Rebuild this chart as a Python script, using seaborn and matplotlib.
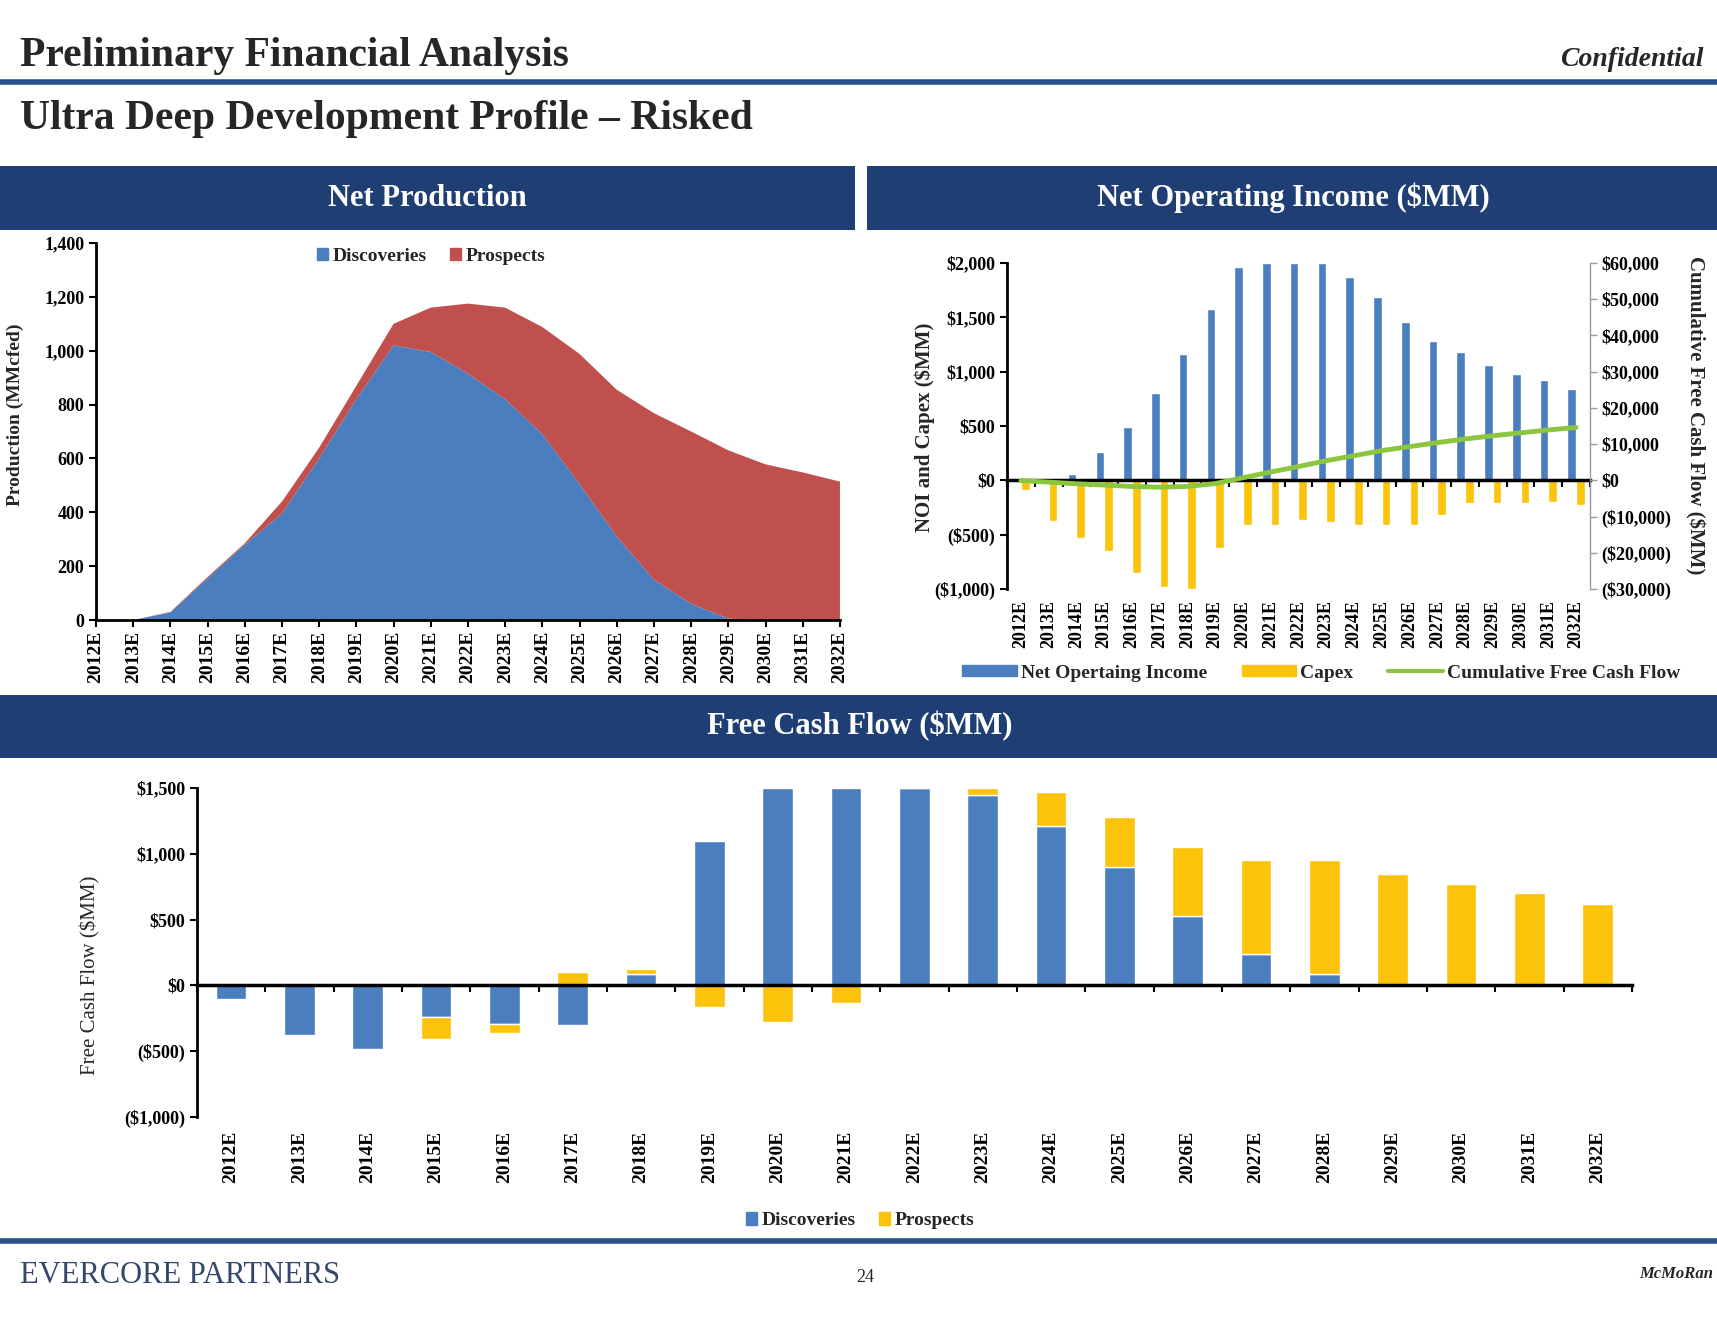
import matplotlib.pyplot as plt
import seaborn as sns
import pandas as pd
import numpy as np
from matplotlib.patches import Rectangle, Patch
from matplotlib.lines import Line2D
from matplotlib.ticker import FuncFormatter

sns.set_theme(style='white')
plt.rcParams['font.family'] = ['Liberation Serif', 'DejaVu Serif']
plt.rcParams['font.weight'] = 'bold'

navy = '#1f3e74'
blue = '#4a7ebf'
red = '#c0504d'
gold = '#fcc30b'
green = '#8cc63e'

years = ['2012E', '2013E', '2014E', '2015E', '2016E', '2017E', '2018E',
         '2019E', '2020E', '2021E', '2022E', '2023E', '2024E', '2025E',
         '2026E', '2027E', '2028E', '2029E', '2030E', '2031E', '2032E']

# net production (MMcfed)
prod_disc = [0, 0, 28, 155, 280, 395, 600, 820, 1020, 995, 915, 820, 690,
             505, 310, 150, 60, 5, 0, 0, 0]
prod_pros = [0, 0, 2, 5, 5, 45, 40, 50, 80, 165, 260, 340, 398, 483, 545,
             618, 640, 625, 578, 548, 514]

# net operating income, capex, cumulative FCF ($MM)
noi = [0, 0, 60, 260, 490, 800, 1160, 1575, 1960, 2000, 2000, 2000, 1875,
       1685, 1460, 1285, 1180, 1060, 980, 920, 840]
capex = [-90, -370, -530, -650, -850, -985, -1000, -625, -410, -415, -365,
         -380, -410, -415, -415, -320, -210, -205, -205, -200, -230]
cum_fcf = [-100, -500, -950, -1300, -1700, -1900, -1700, -900, 700, 2300,
           3800, 5400, 6800, 8200, 9300, 10400, 11400, 12300, 13100, 13900,
           14600]

# free cash flow ($MM)
fcf_disc = [-100, -380, -480, -240, -290, -300, 90, 1100, 1500, 1500, 1500,
            1450, 1210, 900, 530, 240, 85, 0, 0, 0, 0]
fcf_pros = [0, 0, 0, -165, -70, 105, 35, -165, -275, -130, 0, 50, 260, 380,
            520, 715, 870, 850, 770, 700, 620]


def money(v, pos=None):
    if v < 0:
        return f'(${-v:,.0f})'
    return f'${v:,.0f}'


fig = plt.figure(figsize=(17.17, 13.2), dpi=100)
x = np.arange(len(years))

# ---- slide header / footer ----
fig.text(0.0116, 0.95, 'Preliminary Financial Analysis', fontsize=30,
         va='baseline', ha='left')
fig.text(0.9924, 0.95, 'Confidential', fontsize=20, style='italic',
         va='baseline', ha='right')
fig.add_artist(Line2D([0, 1], [0.9379, 0.9379], transform=fig.transFigure,
                      color='#2c4f8f', lw=4))
fig.text(0.0116, 0.9023, 'Ultra Deep Development Profile \u2013 Risked',
         fontsize=30, va='baseline', ha='left')

for (bx, by, bw, bh) in [(0, 0.8258, 0.498, 0.0485), (0.505, 0.8258, 0.495, 0.0485),
                         (0, 0.4258, 1, 0.0477)]:
    fig.add_artist(Rectangle((bx, by), bw, bh, transform=fig.transFigure,
                             facecolor=navy, edgecolor='none'))
fig.text(0.249, 0.85, 'Net Production', color='white', fontsize=22,
         ha='center', va='center')
fig.text(0.753, 0.85, 'Net Operating Income ($MM)', color='white',
         fontsize=22, ha='center', va='center')
fig.text(0.501, 0.45, 'Free Cash Flow ($MM)', color='white', fontsize=22,
         ha='center', va='center')

fig.add_artist(Line2D([0, 1], [0.0598, 0.0598], transform=fig.transFigure,
                      color='#2c4f8f', lw=4))
fig.text(0.0116, 0.028, 'EVERCORE PARTNERS', fontsize=22, weight='normal',
         color='#34466b', va='baseline')
fig.text(0.504, 0.029, '24', fontsize=13, weight='normal', ha='center',
         va='baseline')
fig.text(0.976, 0.035, 'McMoRan', fontsize=12, style='italic', ha='center',
         va='center')


def style_ax(ax):
    ax.tick_params(axis='both', direction='out', length=5, width=1.5,
                   color='black', labelsize=13, labelcolor='black')
    ax.tick_params(axis='y', left=True)
    for s in ['top', 'right']:
        ax.spines[s].set_visible(False)
    ax.spines['left'].set_color('black')
    ax.spines['left'].set_linewidth(2)
    ax.spines['bottom'].set_color('black')
    ax.spines['bottom'].set_linewidth(2)


# ---- net production ----
ax1 = fig.add_axes([0.0559, 0.5303, 0.4333, 0.2856])
ax1.stackplot(x, prod_disc, prod_pros, colors=[blue, red], linewidth=0,
              edgecolor='none')
style_ax(ax1)
ax1.set_xlim(0, 20)
ax1.set_ylim(0, 1400)
ax1.set_xticks(x)
ax1.set_xticklabels(years, rotation=90)
ax1.tick_params(axis='x', bottom=True, pad=3, labelsize=14)
ax1.set_yticks(range(0, 1401, 200))
ax1.yaxis.set_major_formatter(FuncFormatter(lambda v, p: f'{v:,.0f}'))
ax1.text(-0.108, 0.544, 'Production (MMcfed)', transform=ax1.transAxes,
         rotation=90, ha='center', va='center', fontsize=14)
ax1.legend([Patch(color=blue), Patch(color=red)], ['Discoveries', 'Prospects'],
           loc='center', bbox_to_anchor=(0.45, 0.965), ncol=2, frameon=False,
           handlelength=0.6, handleheight=0.6, handletextpad=0.2,
           columnspacing=1.2, fontsize=14)

# ---- net operating income ----
ax2 = fig.add_axes([0.5865, 0.5538, 0.3395, 0.247])
df_noi = pd.DataFrame({
    'year': years * 2,
    'value': noi + capex,
    'series': ['Net Opertaing Income'] * len(years) + ['Capex'] * len(years),
})
sns.barplot(data=df_noi, x='year', y='value', hue='series',
            palette=[blue, gold], width=0.62, saturation=1, errorbar=None,
            legend=False, ax=ax2)
style_ax(ax2)
ax2.set_ylim(-1000, 2000)
ax2.set_yticks(range(-1000, 2001, 500))
ax2.yaxis.set_major_formatter(FuncFormatter(money))
ax2.set_xlabel('')
ax2.set_ylabel('')
ax2.spines['bottom'].set_visible(False)
ax2.tick_params(axis='x', length=0, labelrotation=90, pad=8)
ax2.text(-0.141, 0.497, 'NOI and Capex ($MM)', transform=ax2.transAxes,
         rotation=90, ha='center', va='center', fontsize=15)
z2 = ax2.secondary_xaxis(1 / 3)
z2.set_xticks(np.arange(-0.5, len(years), 1))
z2.set_xticklabels([])
z2.spines['bottom'].set_linewidth(2.5)
z2.spines['bottom'].set_color('black')
z2.tick_params(direction='out', length=5, width=1.5, color='black', bottom=True)
z2.set_zorder(5)

ax2r = ax2.twinx()
sns.lineplot(x=x, y=cum_fcf, color=green, lw=3.5, ax=ax2r)
ax2r.set_ylim(-30000, 60000)
ax2r.set_yticks(range(-30000, 60001, 10000))
ax2r.yaxis.set_major_formatter(FuncFormatter(money))
for s in ['top', 'left', 'bottom']:
    ax2r.spines[s].set_visible(False)
ax2r.spines['right'].set_color('#999999')
ax2r.spines['right'].set_linewidth(1)
ax2r.tick_params(axis='y', right=True, direction='out', length=5, width=1,
                 color='#999999', labelsize=13, labelcolor='black')
ax2r.set_ylabel('')
ax2.set_xlim(-0.5, len(years) - 0.5)
ax2r.text(1.18, 0.534, 'Cumulative Free Cash Flow ($MM)',
          transform=ax2r.transAxes, rotation=270, ha='center', va='center',
          fontsize=15)
ax2.legend([Patch(color=blue), Patch(color=gold), Line2D([], [], color=green, lw=3)],
           ['Net Opertaing Income', 'Capex', 'Cumulative Free Cash Flow'],
           loc='center', bbox_to_anchor=(0.539, -0.258), ncol=3,
           frameon=False, handlelength=2.8, handleheight=0.5,
           handletextpad=0.2, columnspacing=1.8, fontsize=14)

# ---- free cash flow ----
ax3 = fig.add_axes([0.1147, 0.1538, 0.8357, 0.2492])
sns.barplot(x=years, y=fcf_disc, color=blue, width=0.45, saturation=1,
            errorbar=None, ax=ax3)
disc_arr = np.array(fcf_disc)
pros_arr = np.array(fcf_pros)
pros_bottom = np.where(pros_arr >= 0, np.maximum(disc_arr, 0),
                       np.minimum(disc_arr, 0))
ax3.bar(x, pros_arr, bottom=pros_bottom, width=0.45, color=gold)
style_ax(ax3)
ax3.set_xlim(-0.5, len(years) - 0.5)
ax3.set_ylim(-1000, 1500)
ax3.set_yticks(range(-1000, 1501, 500))
ax3.yaxis.set_major_formatter(FuncFormatter(money))
ax3.spines['bottom'].set_visible(False)
ax3.tick_params(axis='x', length=0, labelrotation=90, pad=10, labelsize=14)
ax3.text(-0.074, 0.43, 'Free Cash Flow ($MM)', transform=ax3.transAxes,
         rotation=90, ha='center', va='center', fontsize=15, weight='normal')
z3 = ax3.secondary_xaxis(0.4)
z3.set_xticks(np.arange(-0.5, len(years), 1))
z3.set_xticklabels([])
z3.spines['bottom'].set_linewidth(2.5)
z3.spines['bottom'].set_color('black')
z3.tick_params(direction='out', length=5, width=1.5, color='black', bottom=True)
z3.set_zorder(5)
ax3.legend([Patch(color=blue), Patch(color=gold)], ['Discoveries', 'Prospects'],
           loc='center', bbox_to_anchor=(0.462, -0.316), ncol=2,
           frameon=False, handlelength=0.6, handleheight=0.6,
           handletextpad=0.2, columnspacing=1.2, fontsize=14)

fig.savefig('out.png', dpi=100)
